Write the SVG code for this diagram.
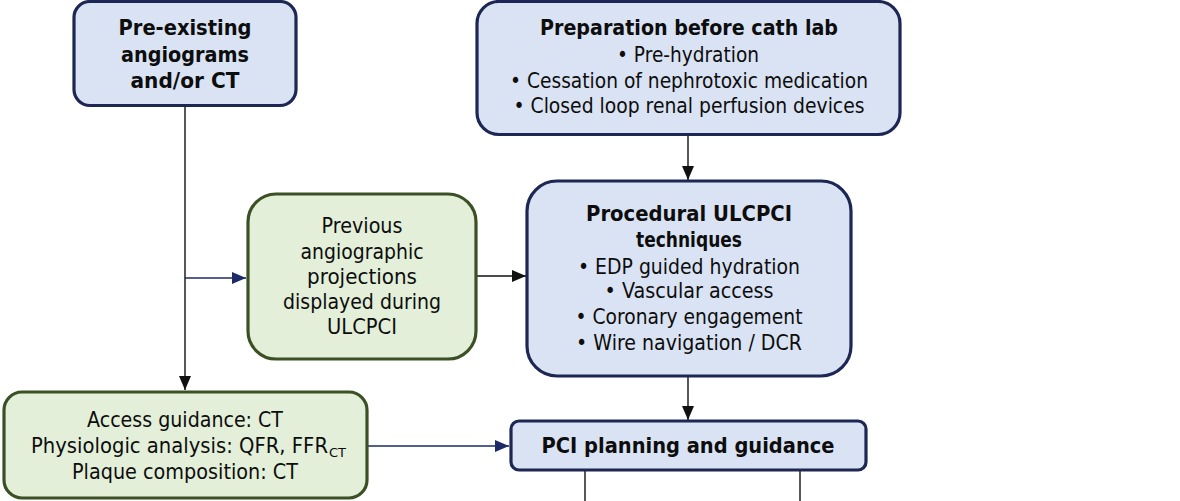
<svg xmlns="http://www.w3.org/2000/svg" width="1180" height="501" viewBox="0 0 1180 501">
<defs>
<style>
.blue{fill:#dae3f3;stroke:#1c2754;stroke-width:3.2}
.green{fill:#e3efd9;stroke:#3b5125;stroke-width:3.2}
text{font-family:"DejaVu Sans","Liberation Sans",sans-serif;fill:#0d0d0d;text-anchor:middle}
.b{font-weight:bold;font-size:21.5px}
.r{font-size:20.5px}
.ln{fill:none;stroke:#111;stroke-width:1.4}
.lnb{fill:none;stroke:#1c2a66;stroke-width:1.4}
</style>
<marker id="ak" markerUnits="userSpaceOnUse" markerWidth="14" markerHeight="14" viewBox="0 0 14 14" refX="14" refY="7" orient="auto">
<path d="M0,1 L14,7 L0,13 Z" fill="#111"/>
</marker>
<marker id="an" markerUnits="userSpaceOnUse" markerWidth="14" markerHeight="14" viewBox="0 0 14 14" refX="14" refY="7" orient="auto">
<path d="M0,1 L14,7 L0,13 Z" fill="#1c2a66"/>
</marker>
</defs>
<rect width="1180" height="501" fill="#fff"/>

<g id="connectors">
<path class="ln" d="M185,106 V390" marker-end="url(#ak)"/>
<path class="lnb" d="M185,278 H246" marker-end="url(#an)"/>
<path class="ln" d="M688,135 V180" marker-end="url(#ak)"/>
<path class="ln" d="M476,276 H526" marker-end="url(#ak)"/>
<path class="ln" d="M688,376 V420" marker-end="url(#ak)"/>
<path class="lnb" d="M367,446 H509" marker-end="url(#an)"/>
<path class="ln" d="M585,470 V501"/>
<path class="ln" d="M800,470 V501"/>
</g>

<g id="pre-existing">
<rect class="blue" x="74" y="1.5" width="222" height="104" rx="16"/>
<text class="b" x="185" y="35" textLength="133" lengthAdjust="spacingAndGlyphs">Pre-existing</text>
<text class="b" x="185" y="62" textLength="128" lengthAdjust="spacingAndGlyphs">angiograms</text>
<text class="b" x="185" y="88" textLength="109" lengthAdjust="spacingAndGlyphs">and/or CT</text>
</g>

<g id="preparation">
<rect class="blue" x="477" y="1.5" width="423" height="133" rx="22"/>
<text class="b" x="689" y="35" textLength="298" lengthAdjust="spacingAndGlyphs">Preparation before cath lab</text>
<text class="r" x="688" y="62" textLength="142" lengthAdjust="spacingAndGlyphs">• Pre-hydration</text>
<text class="r" x="689" y="88" textLength="358" lengthAdjust="spacingAndGlyphs">• Cessation of nephrotoxic medication</text>
<text class="r" x="689" y="113" textLength="351" lengthAdjust="spacingAndGlyphs">• Closed loop renal perfusion devices</text>
</g>

<g id="previous">
<rect class="green" x="248" y="194" width="228" height="165" rx="28"/>
<text class="r" x="362" y="233" textLength="81" lengthAdjust="spacingAndGlyphs">Previous</text>
<text class="r" x="362" y="259" textLength="123" lengthAdjust="spacingAndGlyphs">angiographic</text>
<text class="r" x="362" y="284" textLength="110" lengthAdjust="spacingAndGlyphs">projections</text>
<text class="r" x="362" y="309" textLength="158" lengthAdjust="spacingAndGlyphs">displayed during</text>
<text class="r" x="362" y="334" textLength="70" lengthAdjust="spacingAndGlyphs">ULCPCI</text>
</g>

<g id="procedural">
<rect class="blue" x="527" y="181" width="324" height="195" rx="30"/>
<text class="b" x="689" y="221" textLength="206" lengthAdjust="spacingAndGlyphs">Procedural ULCPCI</text>
<text class="b" x="689" y="247" textLength="106" lengthAdjust="spacingAndGlyphs">techniques</text>
<text class="r" x="689" y="274" textLength="222" lengthAdjust="spacingAndGlyphs">• EDP guided hydration</text>
<text class="r" x="689" y="298" textLength="169" lengthAdjust="spacingAndGlyphs">• Vascular access</text>
<text class="r" x="689" y="324" textLength="227" lengthAdjust="spacingAndGlyphs">• Coronary engagement</text>
<text class="r" x="689" y="350" textLength="226" lengthAdjust="spacingAndGlyphs">• Wire navigation / DCR</text>
</g>

<g id="access">
<rect class="green" x="4" y="392" width="363" height="106" rx="18"/>
<text class="r" x="185" y="427" textLength="196" lengthAdjust="spacingAndGlyphs">Access guidance: CT</text>
<text class="r" x="31" y="453" style="text-anchor:start"><tspan textLength="297" lengthAdjust="spacingAndGlyphs">Physiologic analysis: QFR, FFR</tspan><tspan font-size="13" dx="1" dy="4">CT</tspan></text>
<text class="r" x="185" y="479" textLength="226" lengthAdjust="spacingAndGlyphs">Plaque composition: CT</text>
</g>

<g id="pci-planning">
<rect class="blue" x="511" y="421" width="355" height="49" rx="8"/>
<text class="b" x="688" y="453" textLength="293" lengthAdjust="spacingAndGlyphs">PCI planning and guidance</text>
</g>
</svg>
